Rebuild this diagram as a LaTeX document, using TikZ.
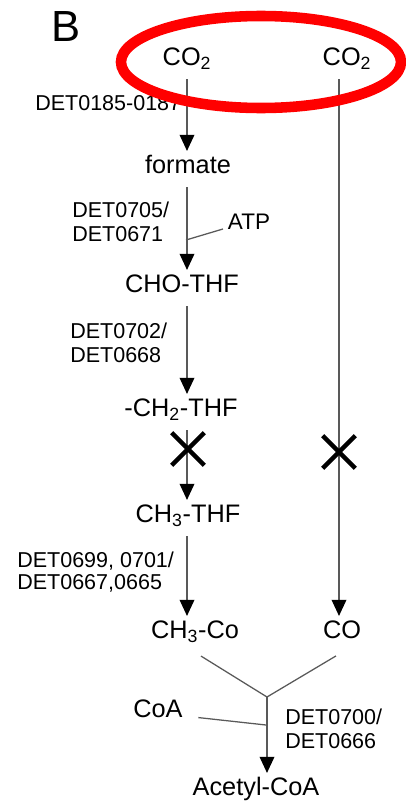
\documentclass[tikz,border=0pt]{standalone}
\usepackage{fontspec}
\setmainfont{Liberation Sans}
\usetikzlibrary{arrows.meta, shapes.misc}
\tikzset{
    chem/.style={
        font=\fontsize{18}{20}\selectfont,
        anchor=base,
        text height=0.85em,
        text depth=0.3em,
        inner ysep=7pt,
        inner xsep=3pt
    },
    gene/.style={
        font=\fontsize{15.3}{17}\selectfont,
        anchor=base west,
        align=left,
        inner sep=0pt
    },
    arrow/.style={
        draw=black!65,
        line width=0.9pt,
        -{Triangle[width=10.5pt,length=11.5pt,color=black]}
    },
    link/.style={
        draw=black!65,
        line width=0.9pt
    },
    block/.style={
        cross out,
        draw=black,
        line width=3.2pt,
        minimum size=20pt,
        inner sep=0pt
    }
}
\begin{document}
\begin{tikzpicture}[x=0.025cm, y=-0.025cm]
\useasboundingbox (0,0) rectangle (406,802);

\node (panel) [anchor=base, font=\fontsize{31}{33}\selectfont] at (66,42) {B};

% left branch
\node (co2a) [chem] at (187,65) {CO\textsubscript{2}};
\node (formate) [chem] at (188,173) {formate};
\node (chothf) [chem] at (182,292) {CHO-THF};
\node (ch2thf) [chem] at (181,416) {-CH\textsubscript{2}-THF};
\node (ch3thf) [chem] at (188,522) {CH\textsubscript{3}-THF};
\node (ch3co) [chem] at (195,638) {CH\textsubscript{3}-Co};

% right branch
\node (co2b) [chem] at (347,65) {CO\textsubscript{2}};
\node (co) [chem] at (342,638) {CO};

% product
\node (coa) [chem] at (158,717) {CoA};
\node (acetyl) [chem] at (256,795) {Acetyl-CoA};
\node (atp) [font=\fontsize{16}{18}\selectfont, anchor=base] at (249,229) {ATP};

% enzymes (base = last line)
\node (g1) [gene] at (35,110) {DET0185-0187};
\node (g2) [gene] at (72,241) {DET0705/\\DET0671};
\node (g3) [gene] at (70,362) {DET0702/\\DET0668};
\node (g4) [gene, font=\fontsize{15.3}{15.5}\selectfont] at (17,589) {DET0699, 0701/\\DET0667,0665};
\node (g5) [gene] at (285,748) {DET0700/\\DET0666};

\coordinate (atpjoin) at (186,240);
\coordinate (join) at (267,697);
\coordinate (coajoin) at (266,725);

\draw [arrow] (co2a) -- (co2a |- formate.north);
\draw [arrow] (co2a |- formate.south) -- (co2a |- chothf.north);
\draw [arrow] (co2a |- chothf.south) -- (co2a |- ch2thf.north);
\draw [arrow] (co2a |- ch2thf.south) -- (co2a |- ch3thf.north);
\draw [arrow] (co2a |- ch3thf.south) -- (co2a |- ch3co.north);
\draw [arrow] (co2b |- co2b.south) ++(-8,0) coordinate (rtop) -- (rtop |- co.north);
\draw [link] (atp) -- (atpjoin);

\draw [link, shorten <=5pt] (ch3co.south) -- (join);
\draw [link, shorten <=5pt] (co.south) -- (join);
\draw [link, shorten <=8pt] (coa) -- (coajoin);
\draw [arrow] (join) -- (join |- acetyl.north);

\node (stop1) [block] at (188,449) {};
\node (stop2) [block] at (339,452) {};

% highlight
\draw [red, line width=7.5pt] (261,62) ellipse [x radius=140, y radius=46];

\end{tikzpicture}
\end{document}
